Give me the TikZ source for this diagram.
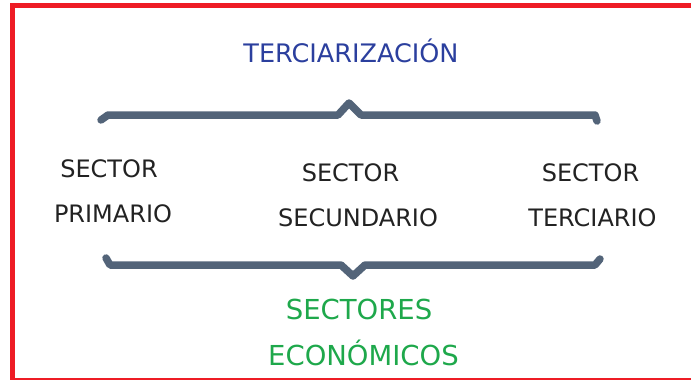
\documentclass[tikz,border=0pt]{standalone}
\usepackage{fontspec}
\setmainfont{DejaVu Sans}
\definecolor{frame}{HTML}{EE1C25}
\definecolor{brace}{HTML}{536479}
\definecolor{titleblue}{HTML}{2B3F9E}
\definecolor{econgreen}{HTML}{1EA84B}
\definecolor{sectext}{HTML}{222222}
\begin{document}
\begin{tikzpicture}[x=1pt,y=-1pt,
  bracepath/.style={draw=brace,line width=7.5pt,line cap=round,line join=round},
  sectorlabel/.style={anchor=base,inner sep=0pt,text=sectext,font=\fontsize{24}{24}\selectfont},
  titlelabel/.style={anchor=base,inner sep=0pt,text=titleblue,font=\fontsize{25.5}{25.5}\selectfont},
  greenlabel/.style={anchor=base,inner sep=0pt,text=econgreen,font=\fontsize{27.5}{27.5}\selectfont}]
\useasboundingbox (0,0) rectangle (691,380);
\clip (0,0) rectangle (691,380);
\draw[frame,line width=5pt] (12.5,5.5) rectangle (710,380);

% title
\node[titlelabel] (title) at (351,62) {TERCIARIZACIÓN};

% top brace
\coordinate (tb1) at (101,120);
\coordinate (tb2) at (108,115);
\coordinate (tb3) at (338,115);
\coordinate (tb4) at (349,103);
\coordinate (tb5) at (361,115);
\coordinate (tb6) at (595,115);
\coordinate (tb7) at (597,121);
\draw[bracepath] (tb1) -- (tb2) -- (tb3) -- (tb4) -- (tb5) -- (tb6) -- (tb7);

% sectors
\node[sectorlabel] (s1a) at (109,177) {SECTOR};
\node[sectorlabel] (s1b) at (113,222) {PRIMARIO};
\node[sectorlabel] (s2a) at (350.5,181) {SECTOR};
\node[sectorlabel] (s2b) at (358,226) {SECUNDARIO};
\node[sectorlabel] (s3a) at (590.5,181) {SECTOR};
\node[sectorlabel] (s3b) at (592.5,226) {TERCIARIO};

% bottom brace
\coordinate (bb1) at (106,258);
\coordinate (bb2) at (110,265);
\coordinate (bb3) at (341,265);
\coordinate (bb4) at (353,276);
\coordinate (bb5) at (365,265);
\coordinate (bb6) at (595,265);
\coordinate (bb7) at (600,259);
\draw[bracepath] (bb1) -- (bb2) -- (bb3) -- (bb4) -- (bb5) -- (bb6) -- (bb7);

% bottom label
\node[greenlabel] (econ1) at (359,319) {SECTORES};
\node[greenlabel] (econ2) at (363.5,365) {ECONÓMICOS};
\end{tikzpicture}
\end{document}
